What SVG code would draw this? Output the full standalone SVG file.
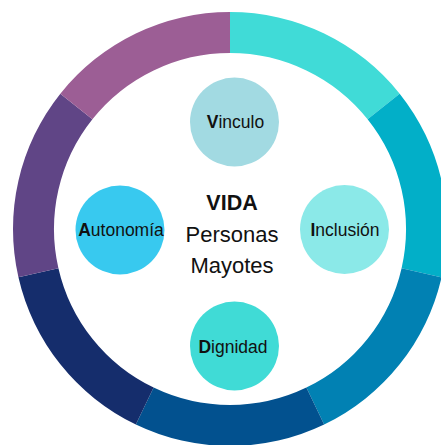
<svg xmlns="http://www.w3.org/2000/svg" width="441" height="445" viewBox="0 0 441 445">
<style>
.lbl{font-family:"Liberation Sans",Arial,sans-serif;font-size:17.5px;fill:#111;text-anchor:middle}
.b{font-weight:bold}
.ctr{font-family:"Liberation Sans",Arial,sans-serif;fill:#111;text-anchor:middle}
</style>
<rect width="441" height="445" fill="#fff"/>
<g id="ring">
<path d="M230 12 A217 217 0 0 1 399.66 93.70 L367.60 119.27 A176 176 0 0 0 230 53 Z" fill="#40DBD7"/>
<path d="M399.66 93.70 A217 217 0 0 1 441.56 277.29 L401.59 268.16 A176 176 0 0 0 367.60 119.27 Z" fill="#02AFC8"/>
<path d="M441.56 277.29 A217 217 0 0 1 324.15 424.51 L306.36 387.57 A176 176 0 0 0 401.59 268.16 Z" fill="#0181B3"/>
<path d="M324.15 424.51 A217 217 0 0 1 135.85 424.51 L153.64 387.57 A176 176 0 0 0 306.36 387.57 Z" fill="#02518F"/>
<path d="M135.85 424.51 A217 217 0 0 1 18.44 277.29 L58.41 268.16 A176 176 0 0 0 153.64 387.57 Z" fill="#152D6C"/>
<path d="M18.44 277.29 A217 217 0 0 1 60.34 93.70 L92.40 119.27 A176 176 0 0 0 58.41 268.16 Z" fill="#604586"/>
<path d="M60.34 93.70 A217 217 0 0 1 230 12 L230 53 A176 176 0 0 0 92.40 119.27 Z" fill="#9C5E95"/>
</g>
<g id="center">
<text class="ctr" x="232" y="210" font-size="21.5" font-weight="bold">VIDA</text>
<text class="ctr" x="232" y="241.5" font-size="22">Personas</text>
<text class="ctr" x="232" y="273" font-size="22">Mayotes</text>
</g>
<g id="vinculo">
<circle cx="234.5" cy="122" r="44.5" fill="#A2DAE2"/>
<text class="lbl" x="235.5" y="127.5"><tspan class="b">V</tspan>inculo</text>
</g>
<g id="autonomia">
<circle cx="120" cy="230" r="44.5" fill="#38C9EF"/>
<text class="lbl" x="121" y="235.5"><tspan class="b">A</tspan>utonomía</text>
</g>
<g id="inclusion">
<circle cx="344.5" cy="229.5" r="44.5" fill="#8BE9E8"/>
<text class="lbl" x="345" y="235.5"><tspan class="b">I</tspan>nclusión</text>
</g>
<g id="dignidad">
<circle cx="234.5" cy="346" r="44.5" fill="#40DBD6"/>
<text class="lbl" x="233" y="353"><tspan class="b">D</tspan>ignidad</text>
</g>
<g id="connectors"></g>
</svg>
